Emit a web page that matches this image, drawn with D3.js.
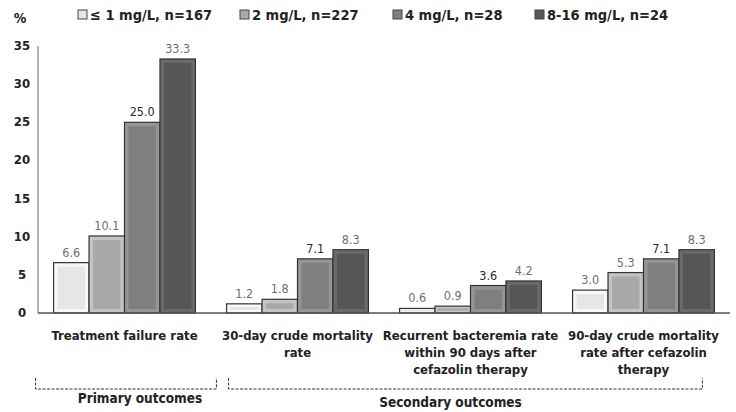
<!DOCTYPE html>
<html>
<head>
<meta charset="utf-8">
<script src="https://cdn.jsdelivr.net/npm/d3@7"></script>
<style>
  body { margin: 0; background: #fff; }
  text { font-family: "DejaVu Sans Condensed", "Open Sans", sans-serif; }
</style>
</head>
<body>
<svg id="chart" width="736" height="412"></svg>
<script>
const categories = [
  ["Treatment failure rate"],
  ["30-day crude mortality", "rate"],
  ["Recurrent bacteremia rate", "within 90 days after", "cefazolin therapy"],
  ["90-day crude mortality", "rate after cefazolin", "therapy"]
];
const seriesNames = ["\u2264 1 mg/L, n=167", "2 mg/L, n=227", "4 mg/L, n=28", "8-16 mg/L, n=24"];
const s1 = [6.6, 1.2, 0.6, 3.0];
const s2 = [10.1, 1.8, 0.9, 5.3];
const s3 = [25.0, 7.1, 3.6, 7.1];
const s4 = [33.3, 8.3, 4.2, 8.3];
const yTicks = [0, 5, 10, 15, 20, 25, 30, 35];
const groups = [
  { label: "Primary outcomes", from: 0, to: 0 },
  { label: "Secondary outcomes", from: 1, to: 3 }
];

const series = [s1, s2, s3, s4];
const fills = ["#e6e6e6", "#a9a9a9", "#7f7f7f", "#565656"];
const edges = ["#f7f7f7", "#c4c4c4", "#959595", "#6a6a6a"];
const labelColors = ["#6f6f6f", "#6f6f6f", "#2a2a2a", "#6f6f6f"];

const svg = d3.select("#chart");
const margin = { left: 38, right: 6, top: 46, bottom: 99 };
const width = 736, height = 412;

const x0 = d3.scaleBand().domain(d3.range(categories.length))
  .range([margin.left, width - margin.right]).paddingInner(0.18).paddingOuter(0.09);
const x1 = d3.scaleBand().domain(d3.range(series.length)).range([0, x0.bandwidth()]);
const y = d3.scaleLinear().domain([0, 35]).range([height - margin.bottom, margin.top]);

// y axis
svg.append("line")
  .attr("x1", margin.left).attr("x2", margin.left)
  .attr("y1", y(35)).attr("y2", y(0))
  .attr("stroke", "#999").attr("stroke-width", 1.5);

svg.append("g").selectAll("text").data(yTicks).join("text")
  .attr("x", 22).attr("y", d => y(d) + 4)
  .attr("text-anchor", "middle")
  .attr("font-size", 13).attr("font-weight", "bold").attr("fill", "#222")
  .text(d => d);

svg.append("text").attr("x", 20).attr("y", 23)
  .attr("text-anchor", "middle").attr("font-size", 14).attr("font-weight", "bold").attr("fill", "#222")
  .text("%");

// bars
const bars = svg.append("g");
series.forEach((vals, si) => {
  const g = bars.append("g");
  vals.forEach((v, ci) => {
    const bx = x0(ci) + x1(si), bw = x1.bandwidth();
    const by = y(v), bh = y(0) - y(v);
    g.append("rect").attr("x", bx).attr("y", by).attr("width", bw).attr("height", bh)
      .attr("fill", edges[si]).attr("stroke", "#333").attr("stroke-width", 1.2);
    const inset = Math.min(4, bh / 3);
    g.append("rect").attr("x", bx + inset).attr("y", by + inset)
      .attr("width", Math.max(0, bw - inset * 2)).attr("height", Math.max(0, bh - inset * 2))
      .attr("fill", fills[si]);
    g.append("text").attr("x", bx + bw / 2).attr("y", by - 6)
      .attr("text-anchor", "middle").attr("font-size", 12.5)
      .attr("fill", labelColors[si])
      .text(v.toFixed(1));
  });
});

// x axis
svg.append("line")
  .attr("x1", margin.left).attr("x2", width - margin.right)
  .attr("y1", y(0)).attr("y2", y(0))
  .attr("stroke", "#555").attr("stroke-width", 1.5);

// category labels
categories.forEach((lines, ci) => {
  const t = svg.append("text").attr("x", x0(ci) + x0.bandwidth() / 2).attr("y", y(0) + 27)
    .attr("text-anchor", "middle").attr("font-size", 13).attr("font-weight", "bold").attr("fill", "#222");
  lines.forEach((l, i) => t.append("tspan").attr("x", x0(ci) + x0.bandwidth() / 2)
    .attr("dy", i === 0 ? 0 : 17).text(l));
});

// outcome brackets
const bTop = 378, bBot = 389;
groups.forEach((grp, gi) => {
  const xa = gi ? x0(grp.from) + 2 : x0(grp.from) - 18;
  const xb = x0(grp.to) + x0.bandwidth() + (gi ? -12 : 21);
  svg.append("path")
    .attr("d", `M${xa},${bTop}V${bBot}H${xb}V${bTop}`)
    .attr("fill", "none").attr("stroke", "#333").attr("stroke-width", 1)
    .attr("stroke-dasharray", "3,1.5");
  svg.append("text").attr("x", (xa + xb) / 2 + (gi ? -15 : 14)).attr("y", gi ? 407 : 403)
    .attr("text-anchor", "middle").attr("font-size", 13.5).attr("font-weight", "bold").attr("fill", "#222")
    .text(grp.label);
});

// legend
const legendX = [78, 240, 393, 535];
const lg = svg.append("g");
seriesNames.forEach((n, i) => {
  lg.append("rect").attr("x", legendX[i]).attr("y", 10).attr("width", 9).attr("height", 9)
    .attr("fill", fills[i]).attr("stroke", "#444").attr("stroke-width", 1);
  lg.append("text").attr("x", legendX[i] + 12).attr("y", 19.5)
    .attr("font-size", 14.5).attr("font-weight", "bold").attr("fill", "#222").text(n);
});
</script>
</body>
</html>
